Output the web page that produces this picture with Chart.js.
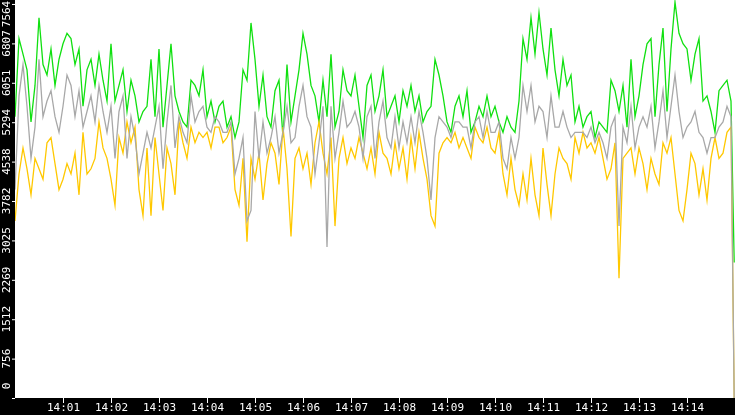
<!DOCTYPE html>
<html><head><meta charset="utf-8">
<script src="https://cdn.jsdelivr.net/npm/chart.js@4.4.6/dist/chart.umd.min.js"></script>
<style>html,body{margin:0;background:#000;}#wrap{width:735px;height:415px;}</style>
</head><body><div id="wrap"><canvas id="c"></canvas></div>
<script>
// one sample every 5 s from 14:00:00, last point at 14:15:00
const stepSeconds = 5;
const greenVals = [
  5400,6900,6600,6300,5300,6000,7300,6400,6200,6700,6000,6500,
  6800,7000,6900,6400,6700,5600,6300,6500,6000,6600,6100,5700,
  6800,5700,6000,6300,5500,6100,5800,5300,5500,5600,6500,5400,
  6700,5200,6000,6800,5800,5500,5300,5200,6100,6000,5800,6300,
  5400,5700,5300,5600,5700,5200,5400,5000,5300,6300,6100,7200,
  6500,5600,6200,5400,5200,5900,6100,5000,6400,5300,5800,6300,
  7000,6600,6000,5800,5300,6100,5400,6600,5200,5500,6300,5900,
  5800,6200,5600,5000,6000,6200,5500,5800,6300,5400,5600,5800,
  5300,5900,5600,6000,5500,5800,5300,5500,5600,6500,6200,5800,
  5300,5100,5600,5800,5400,5900,5100,5300,5600,5400,5800,5400,
  5600,5300,5100,5400,5200,5100,5700,6900,6500,7300,6600,7400,
  6700,6200,7100,6300,5800,6500,6000,6200,5300,5600,5200,5400,
  5500,5000,5300,5200,5100,6100,5900,5500,6000,5200,6500,5400,
  5800,6400,6800,6900,5400,6400,7100,5500,6700,7600,7000,6800,
  6700,6100,6600,6900,5700,5800,5500,5100,5900,6000,6100,5700,
  2600
];
const yellowVals = [
  3400,4300,4800,4400,3900,4600,4400,4200,4900,5000,4500,4000,
  4200,4500,4300,4700,3900,5100,4300,4400,4600,5300,4800,4600,
  4200,3700,5000,4700,5300,4900,5200,4000,3500,4800,3500,5000,
  4300,3600,4800,4500,3900,5300,4900,4600,5200,4900,5100,5000,
  5100,4800,5200,5200,4900,5000,5200,4000,3700,4600,3000,4600,
  4200,4700,3800,4500,4900,4700,4100,5200,4400,3100,4600,4800,
  4400,4700,4100,4900,5300,4700,4300,5000,3300,4600,5000,4500,
  4800,4600,5000,4700,4400,4800,4300,5100,4700,4600,4300,4900,
  4400,4800,4200,5000,4400,5100,4600,4200,3500,3300,4700,4900,
  5000,4900,5100,4800,5000,4800,4600,5200,5000,4900,5200,4800,
  4700,5100,4300,3900,4600,4000,3700,4300,3800,4600,3900,3500,
  4800,4100,3500,4300,4800,4600,4500,4200,5000,4700,5100,4800,
  4900,4700,5000,4600,4200,4400,4900,2300,4600,4700,4800,4300,
  4800,4500,4000,4600,4300,4100,4900,4700,5000,4300,3600,3400,
  4000,4700,4500,3900,4400,3800,4600,5000,4600,4700,5100,5200,
  0
];
const grayVals = [
  4000,5800,6400,5600,4600,5200,6500,5400,5700,5900,5400,5100,
  5600,6200,6000,5400,5900,5200,5500,5800,5300,6000,5500,5100,
  5600,4600,5500,5800,4600,5400,5000,4300,4700,5100,4800,5200,
  5600,4400,5300,6000,4800,5400,5100,4900,5800,5300,5500,5600,
  5200,5100,5400,5300,5100,5100,5300,4300,4600,5000,3400,3600,
  5500,4600,5300,4700,5000,5400,4700,5100,5600,4900,5000,5600,
  6000,5400,5200,4300,4900,5600,2900,5600,4600,5100,5700,5200,
  5300,5500,5200,4600,5400,5600,4600,5300,5700,5000,4800,5400,
  4800,5300,4900,5400,4900,5500,5100,4600,3800,5000,5400,5300,
  5200,5000,5300,5300,5200,5200,4800,5300,5400,5000,5500,5100,
  5100,5300,4600,4400,5000,4600,5000,6000,5500,6000,5300,5600,
  5500,5000,5800,5200,5200,5500,5200,5000,5100,5100,5100,5000,
  5200,4900,5100,4900,4600,5200,5400,3300,5200,4900,5600,4800,
  5200,5400,5200,5600,4800,5300,5900,5000,5600,6200,5500,5000,
  5200,5300,5500,5100,5000,4700,5000,5000,5200,5300,5600,5400,
  0
];
const yTicks = [0,756,1512,2269,3025,3782,4538,5294,6051,6807,7564];
const minuteLabels = ['14:00','14:01','14:02','14:03','14:04','14:05','14:06','14:07','14:08','14:09','14:10','14:11','14:12','14:13','14:14','14:15'];

const pts = vals => vals.map((v, i) => ({ x: Math.min(i * stepSeconds, 899), y: v }));
const series = (vals, color) => ({
  data: pts(vals), borderColor: color, borderWidth: 1.3, pointRadius: 0,
  fill: false, tension: 0
});

const frame = {
  id: 'frame',
  beforeDraw(chart) {
    const { ctx, chartArea: a } = chart;
    ctx.save();
    ctx.fillStyle = '#fff';
    ctx.fillRect(a.left, a.top, a.right - a.left, a.bottom - a.top);
    ctx.restore();
  },
  afterDraw(chart) {
    const { ctx, chartArea: a, scales } = chart;
    ctx.save();
    ctx.fillStyle = '#fff';
    ctx.strokeStyle = '#fff';
    ctx.font = '11px "DejaVu Sans Mono"';
    ctx.textAlign = 'center';
    ctx.textBaseline = 'middle';
    yTicks.forEach(v => {
      let y = scales.y.getPixelForValue(v);
      ctx.beginPath(); ctx.moveTo(a.left - 3, y + 0.5); ctx.lineTo(a.left, y + 0.5); ctx.stroke();
      const ly = Math.max(Math.min(y, a.bottom - 12), 14);
      ctx.save(); ctx.translate(7, ly); ctx.rotate(-Math.PI / 2);
      ctx.fillText(String(v), 0, 0); ctx.restore();
    });
    ctx.textBaseline = 'top';
    minuteLabels.forEach((s, m) => {
      if (m === 0 || m === 15) return;
      const x = Math.round(scales.x.getPixelForValue(m * 60)) + 0.5;
      ctx.beginPath(); ctx.moveTo(x, a.bottom); ctx.lineTo(x, a.bottom + 5); ctx.stroke();
      ctx.fillText(s, x, a.bottom + 5);
    });
    ctx.restore();
  }
};

new Chart(document.getElementById('c'), {
  type: 'line',
  data: { datasets: [series(grayVals, '#a8a8a8'), series(yellowVals, '#ffc800'), series(greenVals, '#10e010')] },
  options: {
    responsive: true, maintainAspectRatio: false, animation: false,
    layout: { padding: { left: 15, bottom: 17, top: 0, right: 0 } },
    plugins: { legend: { display: false }, tooltip: { enabled: false } },
    scales: {
      x: { type: 'linear', min: 0, max: 900, display: false },
      y: { min: 0, max: 7640, display: false }
    }
  },
  plugins: [frame]
});
</script></body></html>
